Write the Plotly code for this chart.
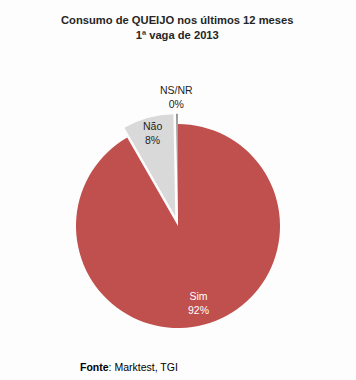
import math
import plotly.graph_objects as go

labels = ["Sim", "Não", "NS/NR"]
values = [91.7, 8.0, 0.3]
pct_text = ["92%", "8%", "0%"]
colors = ["#c0504d", "#d9d9d9", "#969696"]
pulls = [0, 0.1, 0.1]
text_colors = ["#ffffff", "#1f1f1f", "#1f1f1f"]
label_radius = [0.78, 0.85, 1.16]  # label distance along slice bisector, in pie radii

W, H = 356, 380
cx, cy, R = 178, 226, 102          # pie centre and radius in pixels
half = R * (1 + max(pulls))

fig = go.Figure(go.Pie(
    labels=labels, values=values, text=pct_text,
    textinfo="none",
    marker=dict(colors=colors, line=dict(width=0)),
    pull=pulls, sort=False, direction="clockwise", rotation=0,
    showlegend=False, hoverinfo="label+text",
    domain=dict(x=[(cx - half) / W, (cx + half) / W],
                y=[1 - (cy + half) / H, 1 - (cy - half) / H]),
))

annotations = []
total = sum(values)
cum = 0
for lab, v, t, col, p, rf in zip(labels, values, pct_text, text_colors, pulls, label_radius):
    ang = math.radians((cum + v / 2) / total * 360)
    cum += v
    d = (p + rf) * R
    px = cx + d * math.sin(ang)
    py = cy - d * math.cos(ang)
    annotations.append(dict(text=f"{lab}<br>{t}", x=px / W, y=1 - py / H,
                            xref="paper", yref="paper", showarrow=False,
                            xanchor="center", yanchor="middle",
                            font=dict(family="Liberation Sans", size=10.5, color=col)))

annotations.append(dict(text="<b>Fonte</b>: Marktest, TGI", x=78 / W, y=1 - 367 / H,
                        xref="paper", yref="paper", xanchor="left", yanchor="middle",
                        showarrow=False,
                        font=dict(family="Liberation Sans", size=10.5, color="#000000")))

annotations.append(dict(text="<b>Consumo de QUEIJO nos últimos 12 meses<br>1ª vaga de 2013</b>",
                        x=177 / W, y=1 - 27 / H, xref="paper", yref="paper",
                        xanchor="center", yanchor="middle", showarrow=False,
                        font=dict(family="Liberation Sans", size=11.2, color="#262626")))

fig.update_layout(
    width=W, height=H,
    margin=dict(l=0, r=0, t=0, b=0),
    paper_bgcolor="#fdfdfd",
    annotations=annotations,
)

fig.write_html("out.html", config={"displayModeBar": False},
               post_script="document.body.style.margin='0';")
